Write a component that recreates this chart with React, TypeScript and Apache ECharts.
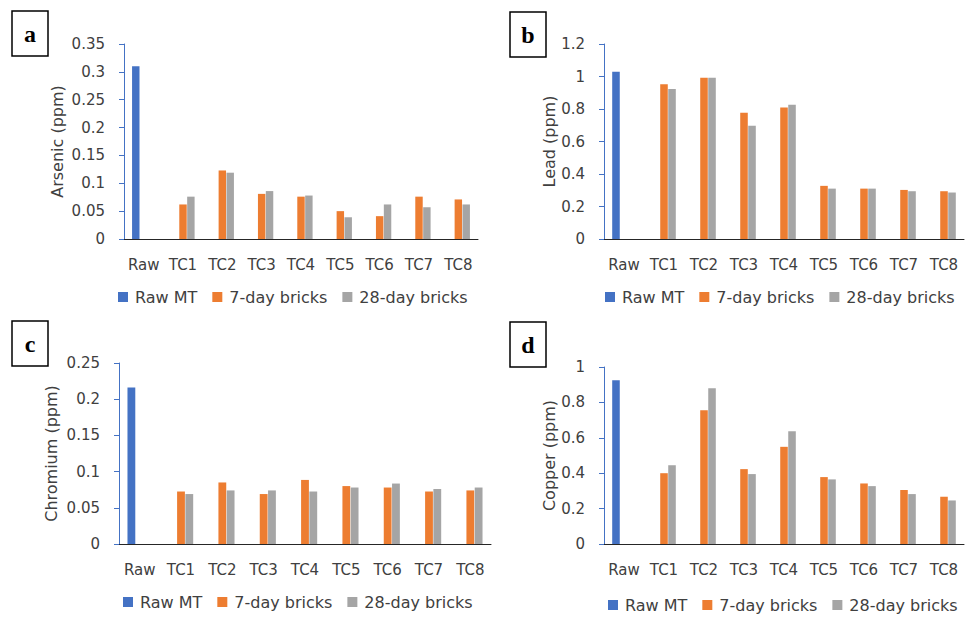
import React, { useEffect, useRef } from "react";
import * as echarts from "echarts";

const categories = ["Raw", "TC1", "TC2", "TC3", "TC4", "TC5", "TC6", "TC7", "TC8"];
const seriesNames = ["Raw MT", "7-day bricks", "28-day bricks"];

const arsenicRaw = 0.31;
const arsenic7 = [0.062, 0.123, 0.081, 0.076, 0.05, 0.041, 0.076, 0.071];
const arsenic28 = [0.076, 0.119, 0.086, 0.078, 0.039, 0.062, 0.057, 0.062];

const leadRaw = 1.03;
const lead7 = [0.953, 0.993, 0.777, 0.81, 0.327, 0.31, 0.302, 0.294];
const lead28 = [0.923, 0.993, 0.697, 0.826, 0.31, 0.31, 0.294, 0.286];

const chromiumRaw = 0.216;
const chromium7 = [0.0725, 0.085, 0.069, 0.0885, 0.08, 0.078, 0.0725, 0.074];
const chromium28 = [0.069, 0.074, 0.074, 0.0725, 0.078, 0.0835, 0.076, 0.078];

const copperRaw = 0.925;
const copper7 = [0.4, 0.756, 0.423, 0.549, 0.378, 0.342, 0.305, 0.267];
const copper28 = [0.445, 0.88, 0.395, 0.637, 0.365, 0.327, 0.282, 0.246];

const colors = ["#4472C4", "#ED7D31", "#A5A5A5"];
const FONT = "'DejaVu Sans', sans-serif";
const TXT = "#404040";

type Panel = {
  letter: string;
  title: string;
  raw: number;
  s7: number[];
  s28: number[];
  max: number;
  interval: number;
  grid: { left: number; top: number; width: number; height: number };
  nameGap: number;
  box: { x: number; y: number };
  legend: { left: number; top: number };
};

const panels: Panel[] = [
  {
    letter: "a", title: "Arsenic (ppm)", raw: arsenicRaw, s7: arsenic7, s28: arsenic28,
    max: 0.35, interval: 0.05,
    grid: { left: 124, top: 44, width: 354, height: 195 },
    nameGap: 59, box: { x: 12, y: 11 }, legend: { left: 118, top: 289 },
  },
  {
    letter: "b", title: "Lead (ppm)", raw: leadRaw, s7: lead7, s28: lead28,
    max: 1.2, interval: 0.2,
    grid: { left: 604, top: 44, width: 360, height: 195 },
    nameGap: 47, box: { x: 510, y: 12 }, legend: { left: 605, top: 289 },
  },
  {
    letter: "c", title: "Chromium (ppm)", raw: chromiumRaw, s7: chromium7, s28: chromium28,
    max: 0.25, interval: 0.05,
    grid: { left: 119, top: 363, width: 372, height: 181 },
    nameGap: 60, box: { x: 12, y: 321 }, legend: { left: 123, top: 594 },
  },
  {
    letter: "d", title: "Copper (ppm)", raw: copperRaw, s7: copper7, s28: copper28,
    max: 1, interval: 0.2,
    grid: { left: 604, top: 367, width: 360, height: 177 },
    nameGap: 47, box: { x: 510, y: 322 }, legend: { left: 608, top: 597 },
  },
];

export default function App() {
  const ref = useRef<HTMLDivElement>(null);
  useEffect(() => {
    if (!ref.current) return;
    const chart = echarts.init(ref.current, undefined, { renderer: "svg" });
    const grids: any[] = [];
    const xAxes: any[] = [];
    const yAxes: any[] = [];
    const series: any[] = [];
    const legends: any[] = [];
    const graphics: any[] = [];
    panels.forEach((p, i) => {
      grids.push({ ...p.grid, containLabel: false });
      xAxes.push({
        type: "category", gridIndex: i, data: categories,
        axisLine: { lineStyle: { color: "#262626", width: 1 } },
        axisTick: { show: false },
        axisLabel: { interval: 0, color: TXT, fontFamily: FONT, fontSize: 15, margin: 18 },
      });
      yAxes.push({
        type: "value", gridIndex: i, min: 0, max: p.max, interval: p.interval,
        name: p.title, nameLocation: "middle", nameGap: p.nameGap,
        nameTextStyle: { color: TXT, fontFamily: FONT, fontSize: 16 },
        axisLine: { show: true, lineStyle: { color: "#4472C4", width: 1 } },
        axisTick: { show: true, length: 5, lineStyle: { color: "#4472C4" } },
        splitLine: { show: false },
        axisLabel: {
          color: TXT, fontFamily: FONT, fontSize: 15, margin: 19,
          formatter: (v: number) => String(+v.toFixed(2)),
        },
      });
      const rawData = [p.raw, ...p.s7.map(() => null)];
      const d7 = [null, ...p.s7];
      const d28 = [null, ...p.s28];
      [rawData, d7, d28].forEach((d, k) => {
        series.push({
          type: "bar", name: seriesNames[k], xAxisIndex: i, yAxisIndex: i,
          data: d, barGap: "6%", barCategoryGap: "41%",
          itemStyle: { color: colors[k] },
        });
      });
      legends.push({
        left: p.legend.left, top: p.legend.top, data: seriesNames, padding: 0,
        icon: "rect", itemWidth: 10, itemHeight: 10, itemGap: 15,
        textStyle: { color: TXT, fontFamily: FONT, fontSize: 16, padding: [0, 0, 0, 2] },
        selectedMode: false,
      });
      graphics.push({
        type: "rect", shape: { x: p.box.x, y: p.box.y, width: 36, height: 45 },
        style: { fill: "#fff", stroke: "#000", lineWidth: 1.5 },
      });
      graphics.push({
        type: "text", x: p.box.x + 18, y: p.box.y + 23,
        style: {
          text: p.letter, fill: "#000", font: "bold 24px 'Liberation Serif', 'Times New Roman', serif",
          textAlign: "center", textVerticalAlign: "middle",
        },
      });
    });
    chart.setOption({
      animation: false,
      backgroundColor: "#fff",
      grid: grids, xAxis: xAxes, yAxis: yAxes, series, legend: legends, graphic: graphics,
    });
    return () => chart.dispose();
  }, []);
  return <div ref={ref} style={{ width: 970, height: 617, position: "absolute", left: 0, top: 0 }} />;
}
